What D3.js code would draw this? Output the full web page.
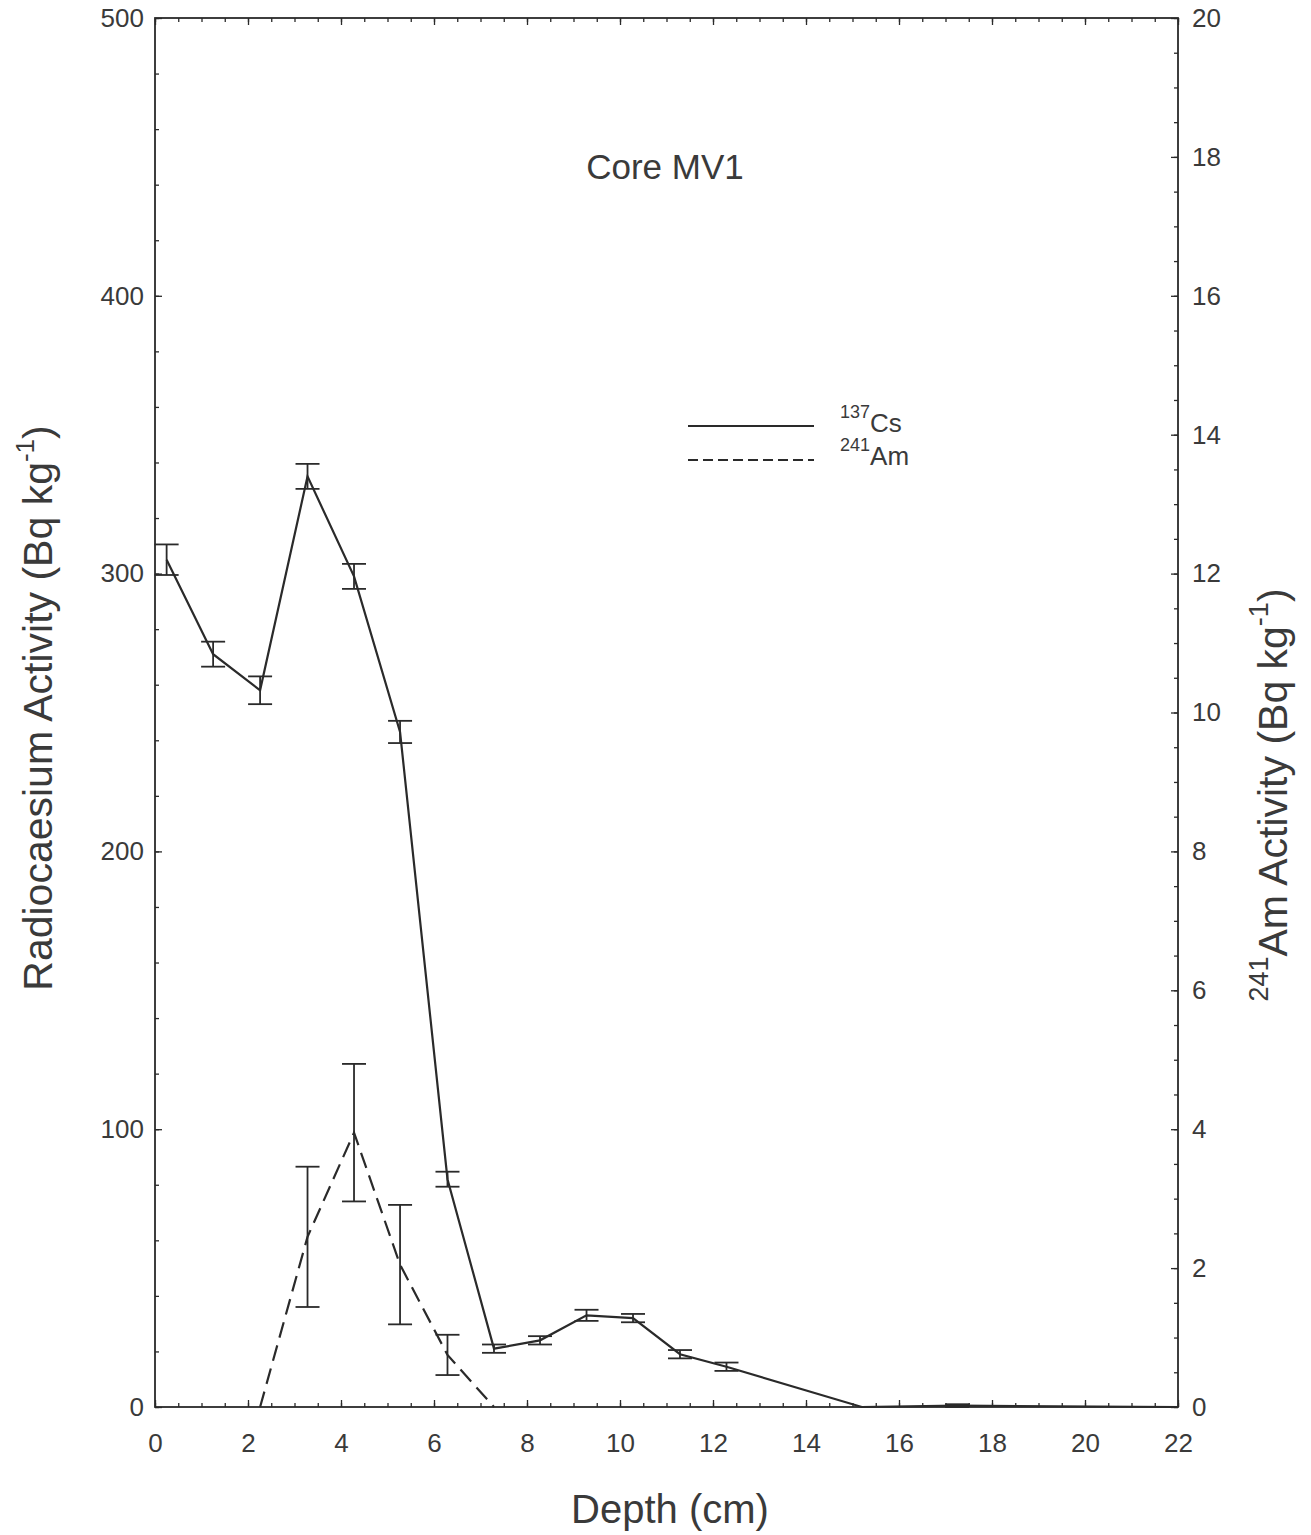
<!DOCTYPE html>
<html>
<head>
<meta charset="utf-8">
<script src="https://cdn.jsdelivr.net/npm/d3@7"></script>
<style>
  body { margin: 0; background: #fff; }
  text { font-family: "Liberation Sans", Arial, Helvetica, sans-serif; fill: #3a3a3a; }
</style>
</head>
<body>
<div id="chart"></div>
<script>
// 137Cs activity (left axis, Bq/kg)
const csDepth = [0.25, 1.25, 2.26, 3.28, 4.28, 5.27, 6.29, 7.29, 8.28, 9.28, 10.28, 11.29, 12.29, 15.2, 17.25, 22];
const csValue = [305, 271, 258, 335, 299, 243, 82, 21, 24, 33, 32, 19, 14.5, 0, 0.5, 0];
const csError = [5.5, 4.5, 5, 4.5, 4.5, 4, 2.7, 1.5, 1.5, 2, 1.5, 1.5, 1.5, 0, 0.5, 0];

// 241Am activity (right axis, Bq/kg)
const amDepth = [2.26, 3.28, 4.28, 5.27, 6.29, 7.29];
const amValue = [0, 2.45, 3.95, 2.05, 0.75, 0];
const amError = [0, 1.01, 0.99, 0.86, 0.29, 0];

const xTicks = d3.range(0, 23, 2);
const yLeftTicks = d3.range(0, 501, 100);
const yRightTicks = d3.range(0, 21, 2);

const width = 1311, height = 1535;
const plot = { left: 155, right: 1178, top: 18, bottom: 1407 };
const ink = "#2a2a2a";

const svg = d3.select("#chart").append("svg")
    .attr("width", width)
    .attr("height", height);

const x = d3.scaleLinear().domain([0, 22]).range([plot.left, plot.right]);
const yL = d3.scaleLinear().domain([0, 500]).range([plot.bottom, plot.top]);
const yR = d3.scaleLinear().domain([0, 20]).range([plot.bottom, plot.top]);

// helper to style an axis group
function styleAxis(g, labels) {
    g.select(".domain").remove();
    g.selectAll(".tick line").attr("stroke", ink).attr("stroke-width", 1.3);
    if (labels) {
        g.selectAll(".tick text").style("font-size", "26px").attr("fill", "#474747");
    } else {
        g.selectAll(".tick text").remove();
    }
}

// minor ticks (inward)
svg.append("g").attr("transform", `translate(0,${plot.bottom})`)
    .call(d3.axisBottom(x).tickValues(d3.range(0, 22.01, 0.5)).tickSize(-4))
    .call(g => styleAxis(g, false));
svg.append("g").attr("transform", `translate(0,${plot.top})`)
    .call(d3.axisTop(x).tickValues(d3.range(0, 22.01, 0.5)).tickSize(-4))
    .call(g => styleAxis(g, false));
svg.append("g").attr("transform", `translate(${plot.left},0)`)
    .call(d3.axisLeft(yL).tickValues(d3.range(0, 501, 20)).tickSize(-4))
    .call(g => styleAxis(g, false));
svg.append("g").attr("transform", `translate(${plot.right},0)`)
    .call(d3.axisRight(yR).tickValues(d3.range(0, 20.01, 0.5)).tickSize(-4))
    .call(g => styleAxis(g, false));

// major ticks with labels
svg.append("g").attr("transform", `translate(0,${plot.bottom})`)
    .call(d3.axisBottom(x).tickValues(xTicks).tickSize(-7).tickPadding(27))
    .call(g => styleAxis(g, true));
svg.append("g").attr("transform", `translate(0,${plot.top})`)
    .call(d3.axisTop(x).tickValues(xTicks).tickSize(-7))
    .call(g => styleAxis(g, false));
svg.append("g").attr("transform", `translate(${plot.left},0)`)
    .call(d3.axisLeft(yL).tickValues(yLeftTicks).tickSize(-7).tickPadding(11))
    .call(g => styleAxis(g, true));
svg.append("g").attr("transform", `translate(${plot.right},0)`)
    .call(d3.axisRight(yR).tickValues(yRightTicks).tickSize(-7).tickPadding(14))
    .call(g => styleAxis(g, true));

// frame
svg.append("rect")
    .attr("x", plot.left)
    .attr("y", plot.top)
    .attr("width", plot.right - plot.left)
    .attr("height", plot.bottom - plot.top)
    .attr("fill", "none")
    .attr("stroke", ink)
    .attr("stroke-width", 1.8);

// series
const cs = csDepth.map((d, i) => ({ depth: d, value: csValue[i], err: csError[i] }));
const am = amDepth.map((d, i) => ({ depth: d, value: amValue[i], err: amError[i] }));

svg.append("path")
    .datum(cs)
    .attr("fill", "none")
    .attr("stroke", ink)
    .attr("stroke-width", 2.2)
    .attr("d", d3.line().x(d => x(d.depth)).y(d => yL(d.value)));

svg.append("path")
    .datum(am)
    .attr("fill", "none")
    .attr("stroke", ink)
    .attr("stroke-width", 2.2)
    .attr("stroke-dasharray", "16,8")
    .attr("d", d3.line().x(d => x(d.depth)).y(d => yR(d.value)));

// error bars
function errorBars(data, yScale) {
    const g = svg.append("g").attr("stroke", ink).attr("stroke-width", 1.8);
    data.filter(d => d.err > 0).forEach(d => {
        const cx = x(d.depth);
        const y0 = yScale(d.value - d.err), y1 = yScale(d.value + d.err);
        g.append("line").attr("x1", cx).attr("x2", cx).attr("y1", y0).attr("y2", y1);
        g.append("line").attr("x1", cx - 12).attr("x2", cx + 12).attr("y1", y0).attr("y2", y0);
        g.append("line").attr("x1", cx - 12).attr("x2", cx + 12).attr("y1", y1).attr("y2", y1);
    });
}
errorBars(cs, yL);
errorBars(am, yR);

// title inside plot
svg.append("text")
    .attr("x", 665)
    .attr("y", 179)
    .attr("text-anchor", "middle")
    .style("font-size", "35px")
    .text("Core MV1");

// legend
const legend = svg.append("g");
legend.append("line")
    .attr("x1", 688).attr("x2", 814).attr("y1", 426).attr("y2", 426)
    .attr("stroke", ink).attr("stroke-width", 2);
legend.append("line")
    .attr("x1", 688).attr("x2", 814).attr("y1", 460).attr("y2", 460)
    .attr("stroke", ink).attr("stroke-width", 2).attr("stroke-dasharray", "10,5");
const l1 = legend.append("text").attr("x", 840).attr("y", 432).style("font-size", "26px");
l1.append("tspan").attr("dy", -14).style("font-size", "18px").text("137");
l1.append("tspan").attr("dy", 14).text("Cs");
const l2 = legend.append("text").attr("x", 840).attr("y", 465).style("font-size", "26px");
l2.append("tspan").attr("dy", -14).style("font-size", "18px").text("241");
l2.append("tspan").attr("dy", 14).text("Am");

// axis titles
svg.append("text")
    .attr("x", 670)
    .attr("y", 1523)
    .attr("text-anchor", "middle")
    .style("font-size", "40px")
    .text("Depth (cm)");

const leftTitle = svg.append("text")
    .attr("transform", "translate(52,708) rotate(-90)")
    .attr("text-anchor", "middle")
    .style("font-size", "41px");
leftTitle.append("tspan").text("Radiocaesium Activity (Bq kg");
leftTitle.append("tspan").attr("dy", -18).style("font-size", "26px").text("-1");
leftTitle.append("tspan").attr("dy", 18).text(")");

const rightTitle = svg.append("text")
    .attr("transform", "translate(1287,795) rotate(-90)")
    .attr("text-anchor", "middle")
    .style("font-size", "41px");
rightTitle.append("tspan").attr("dy", -19).style("font-size", "27px").text("241");
rightTitle.append("tspan").attr("dy", 19).text("Am Activity (Bq kg");
rightTitle.append("tspan").attr("dy", -19).style("font-size", "27px").text("-1");
rightTitle.append("tspan").attr("dy", 19).text(")");
</script>
</body>
</html>
